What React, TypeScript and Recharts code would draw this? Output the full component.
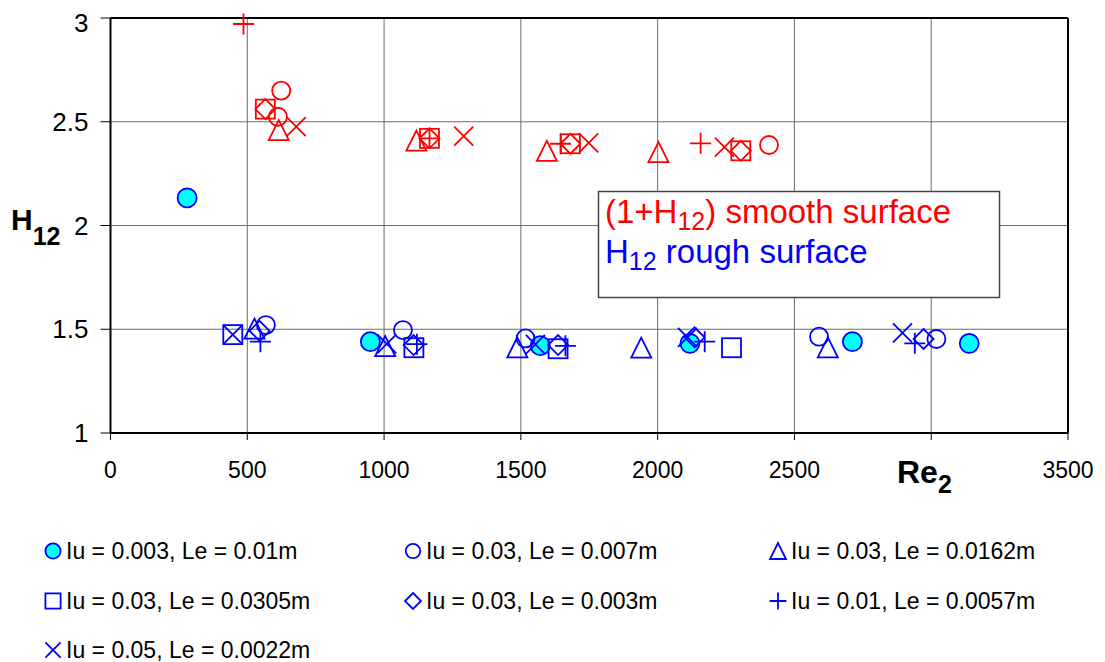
import React from 'react';
import { ScatterChart, Scatter, XAxis, YAxis, CartesianGrid, ReferenceLine } from 'recharts';

const FONT = '"Liberation Sans", Arial, sans-serif';
const RED = '#ff0000';
const BLUE = '#0000ff';
const CYAN = '#00ffff';

const xTicks = [0, 500, 1000, 1500, 2000, 2500, 3000, 3500];
const yTicks = [1, 1.5, 2, 2.5, 3];

// smooth surface, plotted as 1 + H12  [Re2, value]
const smoothCircle = [[612, 2.524], [624, 2.65], [2407, 2.388]];
const smoothTriangle = [[615, 2.46], [1118, 2.409], [1595, 2.36], [2003, 2.354]];
const smoothSquare = [[566, 2.561], [1166, 2.42], [1681, 2.394], [2304, 2.36]];
const smoothDiamond = [[566, 2.561], [1166, 2.42], [1681, 2.394], [2304, 2.36]];
const smoothPlus = [[486, 2.971], [1166, 2.42], [1645, 2.394], [2157, 2.396]];
const smoothCross = [[679, 2.476], [1291, 2.431], [1748, 2.398], [2244, 2.378]];

// rough surface, H12  [Re2, value]
const roughFilled = [[280, 2.133], [950, 1.44], [1571, 1.421], [2118, 1.432], [2712, 1.44], [3139, 1.432]];
const roughCircle = [[568, 1.52], [1069, 1.496], [1517, 1.456], [2590, 1.464], [3019, 1.453]];
const roughTriangle = [[526, 1.503], [1004, 1.419], [1487, 1.413], [1940, 1.411], [2622, 1.413]];
const roughSquare = [[447, 1.474], [1109, 1.411], [1636, 1.406], [2270, 1.411]];
const roughDiamond = [[545, 1.492], [1108, 1.424], [1636, 1.424], [2135, 1.461], [2972, 1.453]];
const roughPlus = [[548, 1.44], [1120, 1.428], [1663, 1.42], [2172, 1.44], [2940, 1.432]];
const roughCross = [[447, 1.474], [1010, 1.429], [1553, 1.427], [2109, 1.461], [2895, 1.483]];

const legendLabels = [
  'Iu = 0.003, Le = 0.01m',
  'Iu = 0.03, Le = 0.007m',
  'Iu = 0.03, Le = 0.0162m',
  'Iu = 0.03, Le = 0.0305m',
  'Iu = 0.03, Le = 0.003m',
  'Iu = 0.01, Le = 0.0057m',
  'Iu = 0.05, Le = 0.0022m',
];
const legendKinds = ['filled', 'circle', 'triangle', 'square', 'diamond', 'plus', 'cross'];

const toPoints = (arr: number[][]) => arr.map(([x, y]) => ({ x, y }));

function Marker({ kind, cx, cy, color, s = 1 }: { kind: string; cx: number; cy: number; color: string; s?: number }) {
  const sw = 1.8;
  const common = { stroke: color, strokeWidth: sw, fill: 'none' };
  switch (kind) {
    case 'filled':
      return <circle cx={cx} cy={cy} r={9.5 * s} fill={CYAN} stroke={color} strokeWidth={sw} />;
    case 'circle':
      return <circle cx={cx} cy={cy} r={9 * s} {...common} />;
    case 'triangle': {
      const h = 10 * s;
      return <polygon points={`${cx},${cy - h} ${cx - h},${cy + h} ${cx + h},${cy + h}`} {...common} />;
    }
    case 'square':
      return <rect x={cx - 9.5 * s} y={cy - 9.5 * s} width={19 * s} height={19 * s} {...common} />;
    case 'diamond': {
      const h = 10 * s;
      return <polygon points={`${cx},${cy - h} ${cx + h},${cy} ${cx},${cy + h} ${cx - h},${cy}`} {...common} />;
    }
    case 'plus': {
      const h = 10.5 * s;
      return <path d={`M${cx - h},${cy}H${cx + h}M${cx},${cy - h}V${cy + h}`} {...common} />;
    }
    default: {
      const h = 9.5 * s;
      return <path d={`M${cx - h},${cy - h}L${cx + h},${cy + h}M${cx + h},${cy - h}L${cx - h},${cy + h}`} {...common} />;
    }
  }
}

const shape = (kind: string, color: string) => (p: any) => <Marker kind={kind} cx={p.cx} cy={p.cy} color={color} />;

const series = [
  { name: 'smoothCircle', data: smoothCircle, kind: 'circle', color: RED },
  { name: 'smoothTriangle', data: smoothTriangle, kind: 'triangle', color: RED },
  { name: 'smoothSquare', data: smoothSquare, kind: 'square', color: RED },
  { name: 'smoothDiamond', data: smoothDiamond, kind: 'diamond', color: RED },
  { name: 'smoothPlus', data: smoothPlus, kind: 'plus', color: RED },
  { name: 'smoothCross', data: smoothCross, kind: 'cross', color: RED },
  { name: 'roughFilled', data: roughFilled, kind: 'filled', color: BLUE },
  { name: 'roughCircle', data: roughCircle, kind: 'circle', color: BLUE },
  { name: 'roughTriangle', data: roughTriangle, kind: 'triangle', color: BLUE },
  { name: 'roughSquare', data: roughSquare, kind: 'square', color: BLUE },
  { name: 'roughDiamond', data: roughDiamond, kind: 'diamond', color: BLUE },
  { name: 'roughPlus', data: roughPlus, kind: 'plus', color: BLUE },
  { name: 'roughCross', data: roughCross, kind: 'cross', color: BLUE },
];

const legendCols = [45, 405, 770];
const legendRows = [543, 593, 642];

export default function App() {
  return (
    <div style={{ position: 'relative', width: 1097, height: 654, fontFamily: FONT, background: '#fff' }}>
      <ScatterChart width={1097} height={520} margin={{ top: 10, right: 37, bottom: 0, left: 0 }}>
        <CartesianGrid stroke="#6b6b6b" strokeWidth={1} />
        <XAxis
          type="number"
          dataKey="x"
          domain={[0, 3500]}
          ticks={xTicks}
          height={95}
          tickSize={7}
          tickMargin={22}
          axisLine={{ stroke: '#000', strokeWidth: 2 }}
          tickLine={{ stroke: '#000' }}
          tickFormatter={(v) => (v === 3000 ? '' : String(v))}
          tick={{ fontSize: 23, fill: '#000', fontFamily: FONT }}
        />
        <YAxis
          type="number"
          dataKey="y"
          domain={[1, 3]}
          ticks={yTicks}
          width={102.5}
          tickSize={10}
          tickMargin={12}
          axisLine={{ stroke: '#000', strokeWidth: 2 }}
          tickLine={{ stroke: '#000' }}
          tick={{ fontSize: 26, fill: '#000', fontFamily: FONT }}
        />
        <ReferenceLine y={3} stroke="#000" strokeWidth={2} />
        <ReferenceLine x={3500} stroke="#000" strokeWidth={2} />
        {series.map((s) => (
          <Scatter
            key={s.name}
            name={s.name}
            data={toPoints(s.data)}
            shape={shape(s.kind, s.color)}
            isAnimationActive={false}
          />
        ))}
      </ScatterChart>
      <svg width={1097} height={654} style={{ position: 'absolute', left: 0, top: 0, pointerEvents: 'none' }}>
        <text x={3} y={222} fontSize={30} fontWeight="bold" fill="#000" fontFamily={FONT}>
          H<tspan fontSize={25} dy={15}>12</tspan>
        </text>
        <text x={889} y={475} fontSize={32} fontWeight="bold" fill="#000" fontFamily={FONT}>
          Re<tspan fontSize={25} dy={10}>2</tspan>
        </text>
        <rect x={590.5} y={183.5} width={401} height={106} fill="#fff" stroke="#444" strokeWidth={1.5} />
        <text x={597} y={215} fontSize={33} fill={RED} fontFamily={FONT}>
          (1+H<tspan fontSize={25} dy={7}>12</tspan>
          <tspan dy={-7}>) smooth surface</tspan>
        </text>
        <text x={597} y={255} fontSize={33} fill={BLUE} fontFamily={FONT}>
          H<tspan fontSize={25} dy={7}>12</tspan>
          <tspan dy={-7}> rough surface</tspan>
        </text>
        {legendLabels.map((label, i) => {
          const cx = legendCols[i % 3];
          const cy = legendRows[Math.floor(i / 3)];
          return (
            <g key={label}>
              <Marker kind={legendKinds[i]} cx={cx} cy={cy} color={BLUE} s={0.8} />
              <text x={cx + 13} y={cy + 8} fontSize={23} fill="#000" fontFamily={FONT}>
                {label}
              </text>
            </g>
          );
        })}
      </svg>
    </div>
  );
}
